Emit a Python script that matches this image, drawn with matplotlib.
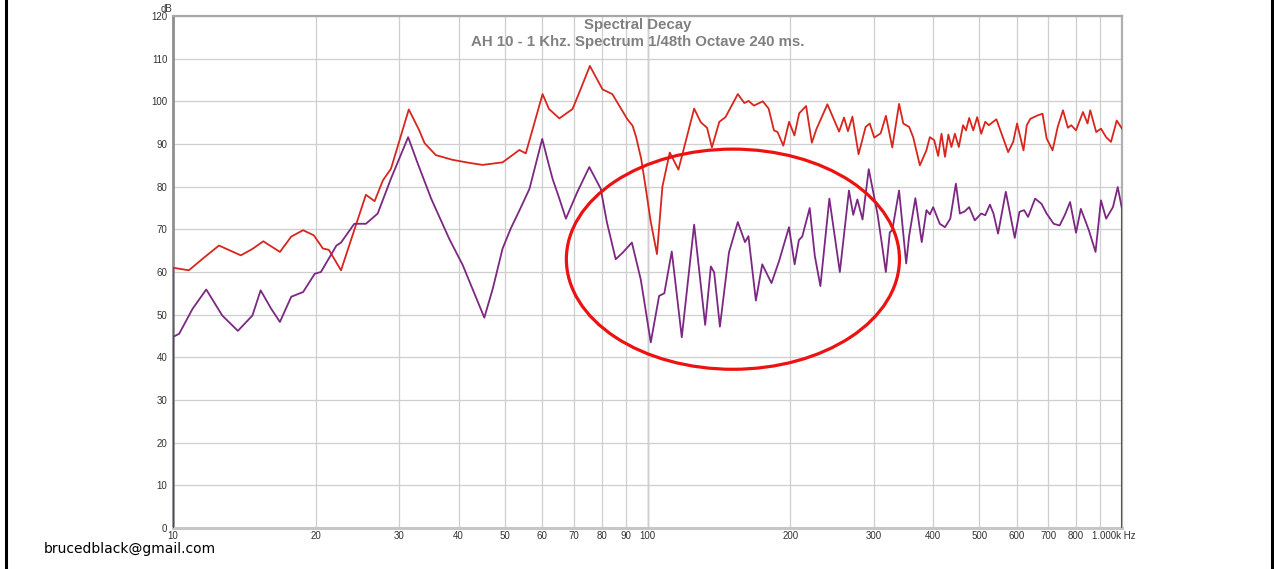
import matplotlib.pyplot as plt
from matplotlib.patches import Ellipse
from matplotlib.lines import Line2D

# peak level (red) and decayed level after 240 ms (purple), freq in Hz / level in dB
red_f = [10, 10, 10.8, 11.66, 12.5, 13.9, 14.7, 15.5, 16.8, 17.75, 18.8, 19.8, 20.7, 21.3, 22.6,
         25.5, 26.6, 27.7, 28.8, 31.4, 33.0, 33.9, 35.8, 38.8, 42.0, 44.9, 49.5, 53.7, 55.4,
         60.1, 62.0, 65.2, 69.5, 72.5, 75.6, 80.4, 84.3, 90.7, 93.0, 94.6, 97.0, 99.3, 101.5,
         104.7, 107.5, 111.4, 116.2, 125.4, 129.5, 133.5, 136.7, 141.7, 146.0, 155.0, 160.0,
         163.3, 167.6, 175.0, 180.0, 184.7, 188.0, 193.3, 198.8, 204.0, 208.8, 215.9, 222.0,
         227.0, 239.4, 247.0, 253.4, 259.5, 264.5, 270.3, 278.5, 288.2, 294.0, 300.5, 310.0,
         318.0, 328.0, 339.0, 346.0, 356.0, 363.0, 375.0, 387.0, 393.6, 402.0, 409.8, 416.5,
         423.6, 430.6, 437.0, 444.4, 453.0, 462.4, 469.0, 476.4, 485.8, 495.3, 505.0, 515.0,
         524.0, 543.6, 560.7, 575.5, 589.8, 601.0, 620.0, 630.0, 641.0, 663.8, 680.0, 693.7,
         713.9, 732.0, 751.0, 769.0, 781.6, 800.0, 827.5, 846.0, 857.2, 882.3, 903.0, 925.8,
         948.0, 974.8, 1000.0]
red_db = [0, 61.0, 60.4, 63.5, 66.2, 63.9, 65.4, 67.2, 64.7, 68.3, 69.8, 68.6, 65.5, 65.2, 60.4,
          78.1, 76.6, 81.5, 84.2, 98.1, 93.3, 90.2, 87.4, 86.3, 85.6, 85.1, 85.7, 88.6, 87.8,
          101.7, 98.2, 96.0, 98.2, 103.2, 108.3, 102.8, 101.7, 95.8, 94.3, 91.7, 86.5, 79.2, 72.0,
          64.2, 80.0, 88.0, 84.0, 98.3, 95.1, 93.8, 89.2, 95.2, 96.3, 101.7, 99.6,
          100.1, 99.0, 100.0, 98.3, 93.2, 92.8, 89.6, 95.2, 92.0, 97.2, 98.9, 90.3,
          93.5, 99.3, 95.8, 92.9, 96.2, 93.0, 96.4, 87.6, 94.0, 94.8, 91.5, 92.5,
          96.6, 89.2, 99.4, 94.8, 94.0, 91.6, 85.0, 88.5, 91.6, 90.9, 87.2, 92.4,
          87.0, 92.2, 89.3, 92.4, 89.3, 94.4, 93.2, 96.1, 93.2, 96.3, 92.4, 95.2,
          94.4, 95.8, 91.6, 88.1, 90.5, 94.8, 88.5, 94.4, 95.9, 96.7, 97.1, 91.3,
          88.5, 94.0, 97.9, 93.8, 94.4, 93.2, 97.5, 94.8, 97.9, 92.8, 93.6, 91.6,
          90.5, 95.5, 93.6]

purple_f = [10, 10, 10.3, 11.0, 11.75, 12.7, 13.7, 14.7, 15.3, 16.1, 16.8, 17.75, 18.8, 19.9,
            20.5, 22.1, 22.6, 24.1, 25.5, 27.0, 28.8, 31.3, 32.8, 35.0, 38.2, 40.8, 45.3, 47.2,
            49.5, 51.5, 53.7, 56.4, 60.0, 61.5, 63.1, 65.2, 67.3, 71.1, 75.4, 79.7, 82.1, 85.7,
            88.6, 92.7, 96.8, 101.6, 105.8, 108.5, 112.5, 118.1, 125.4, 132.3, 136.0, 138.2,
            142.1, 148.5, 155.0, 160.5, 163.2, 169.2, 174.5, 182.5, 189.4, 198.7, 204.2, 208.5,
            211.9, 219.7, 225.2, 231.4, 241.7, 254.3, 265.8, 271.4, 276.9, 283.9, 292.6, 305.3,
            311.0, 317.9, 324.1, 328.0, 339.0, 350.9, 356.0, 366.9, 378.4, 387.2, 393.6, 400.0,
            413.0, 423.6, 434.6, 446.6, 455.3, 466.0, 476.4, 489.5, 505.0, 515.0, 526.8, 536.0,
            548.0, 569.0, 594.3, 608.0, 621.8, 634.0, 655.9, 676.4, 693.7, 717.8, 738.8, 758.0,
            777.3, 800.0, 819.0, 851.3, 879.5, 902.9, 925.8, 957.0, 979.6, 1000.0, 1000.0]
purple_db = [0, 44.8, 45.5, 51.4, 55.9, 49.8, 46.2, 49.8, 55.7, 51.4, 48.3, 54.2, 55.3, 59.6,
             60.0, 66.2, 66.9, 71.3, 71.3, 73.7, 81.9, 91.6, 85.4, 77.2, 67.8, 61.6, 49.3, 56.1,
             65.5, 70.2, 74.4, 79.5, 91.2, 86.5, 81.8, 77.2, 72.5, 78.7, 84.6, 79.5, 71.7, 63.0,
             64.5, 66.9, 58.2, 43.5, 54.4, 55.0, 64.8, 44.7, 71.1, 47.6, 61.3, 59.9,
             47.2, 64.6, 71.7, 67.0, 68.4, 53.3, 61.8, 57.4, 62.6, 70.5, 61.8, 67.5,
             68.3, 75.0, 63.8, 56.7, 77.2, 60.0, 79.1, 73.4, 77.0, 72.3, 84.1, 73.6,
             67.5, 60.0, 69.3, 69.8, 79.1, 62.0, 68.5, 77.3, 67.0, 74.5, 73.5, 75.2,
             71.3, 70.5, 72.5, 80.7, 73.7, 74.2, 75.2, 72.1, 73.7, 73.3, 75.8, 73.7,
             69.0, 78.8, 68.0, 74.1, 74.5, 72.9, 77.2, 76.0, 73.7, 71.3, 70.9, 73.4,
             76.4, 69.2, 74.8, 69.8, 64.7, 76.8, 72.5, 75.2, 79.9, 74.8, 0]

grid_f = [10, 20, 30, 40, 50, 60, 70, 80, 90, 100, 200, 300, 400, 500, 600, 700, 800, 900, 1000]
grid_lbl = ['10', '20', '30', '40', '50', '60', '70', '80', '90', '100', '200', '300', '400',
            '500', '600', '700', '800', '', '']
db_ticks = list(range(0, 121, 10))

plt.rcParams['font.family'] = ['Liberation Sans', 'DejaVu Sans']

fig = plt.figure(figsize=(12.74, 5.69), dpi=100)
ax = fig.add_axes([173 / 1274, 1 - 528 / 569, 949 / 1274, 512 / 569])

ax.plot(red_f, red_db, color='#d8261e', lw=1.3, zorder=3)
ax.plot(purple_f, purple_db, color='#7b2882', lw=1.3, zorder=4)

ax.set_xscale('log')
ax.set_xlim(10, 1000)
ax.set_ylim(0, 120)
ax.set_xticks(grid_f)
ax.set_xticklabels(grid_lbl)
ax.minorticks_off()
ax.set_yticks(db_ticks)
ax.tick_params(length=0, labelsize=7, colors='#333333')
ax.tick_params(axis='x', pad=2)
ax.tick_params(axis='y', pad=4)
ax.grid(True, color='#cfcfcf', lw=0.9, zorder=0)
ax.axvline(100, color='#a0a0a0', lw=1.0, zorder=1)

ax.spines['left'].set_color('#8f8f8f')
ax.spines['left'].set_linewidth(2)
ax.spines['top'].set_color('#a8a8a8')
ax.spines['top'].set_linewidth(1.6)
ax.spines['right'].set_color('#b0b0b0')
ax.spines['right'].set_linewidth(1.6)
ax.spines['bottom'].set_color('#c6c6c6')
ax.spines['bottom'].set_linewidth(2.2)

ax.annotate('1.000k Hz', xy=(1000, 0), xycoords=('data', 'axes fraction'), xytext=(-6, -2.5),
            textcoords='offset points', ha='center', va='top', fontsize=7, color='#333333')
ax.annotate('dB', xy=(0, 1), xycoords='axes fraction', xytext=(-5, 1.5),
            textcoords='offset points', ha='center', va='bottom', fontsize=7, color='#333333')

# highlight the modal region
ax.add_patch(Ellipse((0.590, 0.525), 0.351, 0.430, transform=ax.transAxes, fill=False,
                     ec='#ee1111', lw=2.3, zorder=5, clip_on=False))

fig.text(0.5008, 1 - 25 / 569, 'Spectral Decay', ha='center', va='center',
         fontsize=10.8, fontweight='bold', color='#808080')
fig.text(0.5008, 1 - 42 / 569, 'AH 10 - 1 Khz. Spectrum 1/48th Octave 240 ms.', ha='center',
         va='center', fontsize=10.8, fontweight='bold', color='#808080')
fig.text(44 / 1274, 1 - 549 / 569, 'brucedblack@gmail.com', ha='left', va='center',
         fontsize=10, family='DejaVu Sans', color='black')

for x in (5.5 / 1274, 1272 / 1274):
    fig.add_artist(Line2D([x, x], [0, 1], transform=fig.transFigure, color='black', lw=2.2))

fig.savefig('out.png', dpi=100)
